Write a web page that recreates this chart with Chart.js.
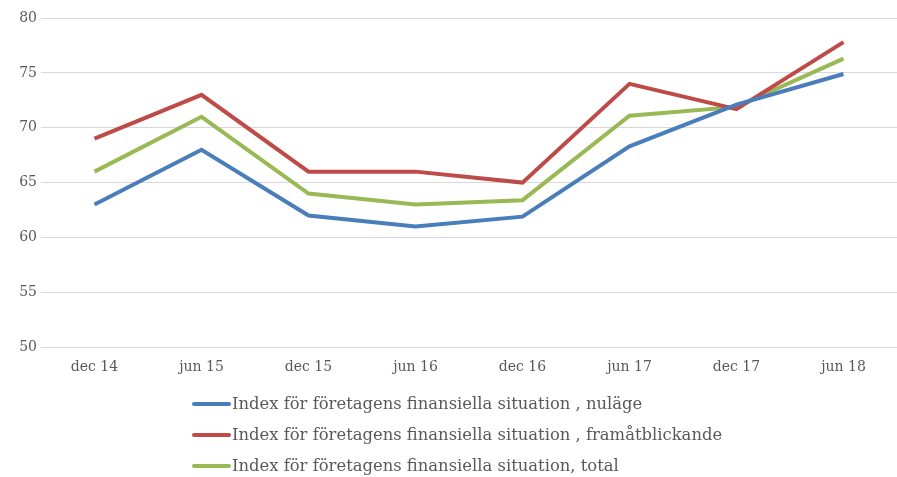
<!DOCTYPE html>
<html>
<head>
<meta charset="utf-8">
<script src="https://cdn.jsdelivr.net/npm/chart.js@4"></script>
<style>
  body { margin: 0; background: #fff; width: 897px; height: 477px; overflow: hidden; }
  #wrap { position: relative; width: 897px; height: 477px; }
</style>
</head>
<body>
<div id="wrap"><canvas id="chart"></canvas></div>
<script>
const labels = ["dec 14", "jun 15", "dec 15", "jun 16", "dec 16", "jun 17", "dec 17", "jun 18"];
const nulage = [63, 68, 62, 61, 61.9, 68.3, 72.1, 74.9];
const framat = [69, 73, 66, 66, 65, 74, 71.7, 77.8];
const total = [66, 71, 64, 63, 63.4, 71.1, 71.9, 76.3];

const seriesNames = [
  "Index för företagens finansiella situation , nuläge",
  "Index för företagens finansiella situation , framåtblickande",
  "Index för företagens finansiella situation, total",
];
const colors = ["#4a7ebb", "#be4b48", "#98b954"];

const font = { family: "DejaVu Serif", size: 14 };

const datasets = [nulage, framat, total].map((data, i) => ({
  label: seriesNames[i],
  data,
  borderColor: colors[i],
  backgroundColor: colors[i],
  borderWidth: 4,
  pointRadius: 0,
  tension: 0,
  fill: false,
}));

// stacked, left-aligned legend under the plot
const listLegend = {
  id: "listLegend",
  afterDraw(chart) {
    const ctx = chart.ctx;
    ctx.save();
    ctx.font = "16.4px 'DejaVu Serif'";
    ctx.textBaseline = "middle";
    chart.data.datasets.forEach((ds, i) => {
      const y = 404 + i * 31;
      ctx.strokeStyle = ds.borderColor;
      ctx.lineWidth = 4;
      ctx.lineCap = "round";
      ctx.beginPath();
      ctx.moveTo(194, y);
      ctx.lineTo(229, y);
      ctx.stroke();
      ctx.fillStyle = "#595959";
      ctx.fillText(ds.label, 232, y + 1);
    });
    ctx.restore();
  },
};

new Chart(document.getElementById("chart"), {
  type: "line",
  data: { labels, datasets },
  plugins: [listLegend],
  options: {
    responsive: true,
    maintainAspectRatio: false,
    animation: false,
    layout: { padding: { top: 18, right: 0, left: 0, bottom: 97 } },
    plugins: {
      legend: { display: false },
      tooltip: { enabled: false },
    },
    scales: {
      x: {
        offset: true,
        grid: { display: false },
        border: { color: "#d9d9d9", width: 1 },
        ticks: { color: "#595959", font, maxRotation: 0, padding: 4 },
      },
      y: {
        min: 50,
        max: 80,
        afterFit(scale) { scale.width = 41; },
        ticks: { stepSize: 5, color: "#595959", font, padding: 4 },
        grid: { color: "#d9d9d9", drawTicks: false },
        border: { display: false },
      },
    },
  },
});
</script>
</body>
</html>
